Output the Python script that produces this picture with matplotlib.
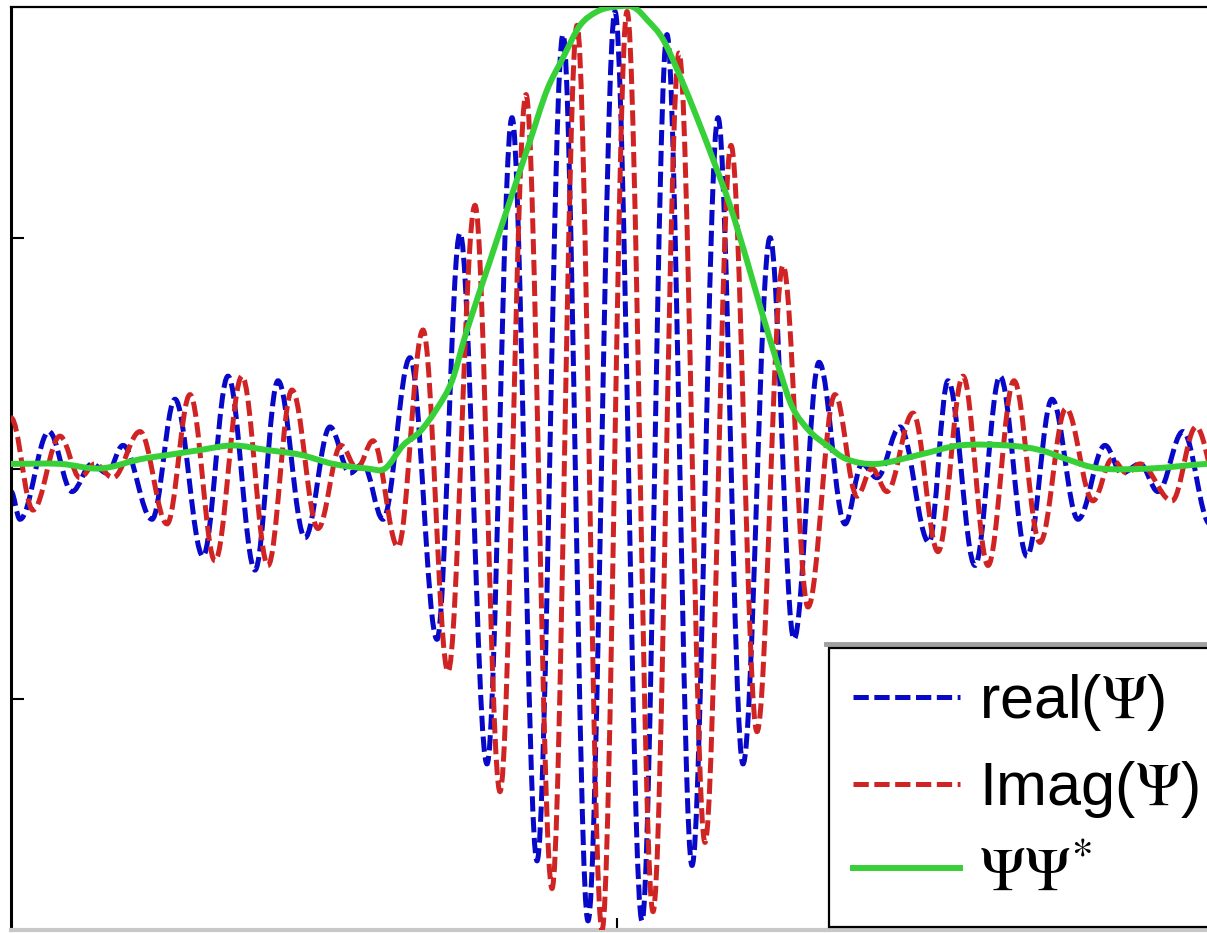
import matplotlib
matplotlib.use('Agg')
import matplotlib.pyplot as plt
from matplotlib.path import Path
from matplotlib.patches import PathPatch
from matplotlib.lines import Line2D

# Wave packet.
# x: arbitrary units (0 = centre tick), y: amplitude, axis runs -1..1
# Re and Im are given by their turning points, |Psi|^2 by samples.
real_x = [-6.06, -5.97, -5.68, -5.45, -5.25, -5.10, -4.94, -4.65, -4.42, -4.14,
          -3.89, -3.62, -3.39, -3.12, -2.87, -2.67, -2.54, -2.34, -2.07, -1.80,
          -1.57, -1.30, -1.05, -0.80, -0.54, -0.29, -0.02, 0.25, 0.50, 0.75,
          1.01, 1.26, 1.53, 1.77, 2.02, 2.28, 2.45, 2.60, 2.83, 3.12,
          3.31, 3.58, 3.83, 4.10, 4.35, 4.61, 4.88, 5.05, 5.23, 5.41,
          5.66, 5.93]
real_y = [-0.05, -0.11, 0.08, -0.05, 0.01, -0.01, 0.05, -0.11, 0.15, -0.19,
          0.20, -0.22, 0.19, -0.15, 0.09, -0.01, 0.01, -0.11, 0.24, -0.37,
          0.51, -0.64, 0.76, -0.85, 0.94, -0.98, 0.99, -0.98, 0.94, -0.86,
          0.76, -0.64, 0.50, -0.37, 0.23, -0.12, 0.01, -0.02, 0.09, -0.16,
          0.19, -0.21, 0.20, -0.19, 0.15, -0.11, 0.05, -0.01, 0.01, -0.05,
          0.08, -0.12]

imag_x = [-6.06, -5.84, -5.57, -5.37, -5.22, -5.04, -4.77, -4.50, -4.27, -4.02,
          -3.75, -3.49, -3.25, -2.99, -2.76, -2.60, -2.44, -2.19, -1.94, -1.69,
          -1.42, -1.17, -0.91, -0.65, -0.40, -0.15, 0.10, 0.36, 0.62, 0.88,
          1.14, 1.40, 1.66, 1.91, 2.18, 2.40, 2.55, 2.70, 2.96, 3.21,
          3.46, 3.71, 3.97, 4.23, 4.49, 4.76, 4.95, 5.10, 5.23, 5.55,
          5.79, 6.05]
imag_y = [0.11, -0.09, 0.07, -0.02, 0.01, -0.02, 0.08, -0.12, 0.16, -0.20,
          0.20, -0.21, 0.17, -0.13, 0.05, 0.00, 0.06, -0.17, 0.30, -0.44,
          0.57, -0.70, 0.81, -0.91, 0.96, -1.00, 0.99, -0.96, 0.90, -0.81,
          0.70, -0.57, 0.44, -0.30, 0.16, -0.06, 0.00, -0.05, 0.12, -0.18,
          0.20, -0.21, 0.19, -0.16, 0.13, -0.07, 0.02, -0.01, 0.01, -0.07,
          0.09, -0.07]

prob_x = [-6.06, -5.57, -5.17, -4.77, -4.47, -4.17, -3.84, -3.50, -3.17, -2.84,
          -2.50, -2.32, -2.14, -1.97, -1.80, -1.65, -1.50, -1.27, -1.04, -0.87,
          -0.70, -0.54, -0.37, -0.20, -0.04, 0.16, 0.31, 0.46, 0.63, 0.80,
          0.96, 1.13, 1.30, 1.46, 1.63, 1.76, 1.93, 2.10, 2.30, 2.60,
          3.03, 3.43, 3.90, 4.23, 4.50, 4.83, 5.33, 5.90, 6.23]
prob_y = [0.01, 0.01, 0.00, 0.02, 0.03, 0.04, 0.05, 0.04, 0.03, 0.01,
          0.00, 0.00, 0.05, 0.08, 0.13, 0.19, 0.30, 0.45, 0.60, 0.71,
          0.82, 0.89, 0.96, 0.99, 1.00, 1.00, 0.97, 0.93, 0.85, 0.76,
          0.67, 0.57, 0.45, 0.33, 0.21, 0.13, 0.08, 0.05, 0.02, 0.01,
          0.03, 0.05, 0.05, 0.04, 0.02, 0.00, 0.00, 0.01, 0.01]

labels = [r'real($\Psi$)', r'Imag($\Psi$)', r'$\Psi\Psi^{*}$']

blue = '#0808c8'
red = '#d02424'
green = '#38d038'

plt.rcParams['font.family'] = ['Liberation Sans', 'DejaVu Sans']
plt.rcParams['mathtext.fontset'] = 'stix'
plt.rcParams['lines.scale_dashes'] = False

dash = (0, (11, 4))


def wave_path(xs, ys, k=0.36):
    # smooth curve through turning points (flat tangent at each one)
    verts = [(xs[0], ys[0])]
    codes = [Path.MOVETO]
    for x0, y0, x1, y1 in zip(xs[:-1], ys[:-1], xs[1:], ys[1:]):
        d = x1 - x0
        verts += [(x0 + k * d, y0), (x1 - k * d, y1), (x1, y1)]
        codes += [Path.CURVE4] * 3
    return Path(verts, codes)


def smooth_path(xs, ys):
    # Catmull-Rom style curve through the samples
    n = len(xs)
    tx, ty = [], []
    for i in range(n):
        a, b = max(i - 1, 0), min(i + 1, n - 1)
        s = 0.5 if 0 < i < n - 1 else 1.0
        tx.append((xs[b] - xs[a]) * s)
        ty.append((ys[b] - ys[a]) * s)
    verts = [(xs[0], ys[0])]
    codes = [Path.MOVETO]
    for i in range(n - 1):
        verts += [(xs[i] + tx[i] / 3, ys[i] + ty[i] / 3),
                  (xs[i + 1] - tx[i + 1] / 3, ys[i + 1] - ty[i + 1] / 3),
                  (xs[i + 1], ys[i + 1])]
        codes += [Path.CURVE4] * 3
    return Path(verts, codes)


fig = plt.figure(figsize=(12.07, 9.33), dpi=100)
ax = fig.add_axes([11 / 1207, 3 / 933, 1229 / 1207, 923 / 933])

ax.add_patch(PathPatch(wave_path(real_x, real_y), fill=False, edgecolor=blue,
                       lw=3.6, linestyle=dash, zorder=2))
ax.add_patch(PathPatch(wave_path(imag_x, imag_y), fill=False, edgecolor=red,
                       lw=3.6, linestyle=dash, zorder=3))
ax.add_patch(PathPatch(smooth_path(prob_x, prob_y), fill=False, edgecolor=green,
                       lw=4.3, zorder=4, joinstyle='round'))

ax.set_xlim(-6.06, 6.23)
ax.set_ylim(-1, 1)
ax.set_xticks([0])
ax.set_yticks([-0.5, 0, 0.5])
ax.tick_params(direction='in', length=9, width=1.5, labelbottom=False,
               labelleft=False)
ax.spines['left'].set_linewidth(2.2)
ax.spines['top'].set_linewidth(1.6)
ax.spines['bottom'].set_color('#c8c8c8')
ax.spines['bottom'].set_linewidth(3)

handles = [Line2D([], [], color=blue, lw=3.6, linestyle=dash),
           Line2D([], [], color=red, lw=3.6, linestyle=dash),
           Line2D([], [], color=green, lw=4.3)]
leg = fig.legend(handles, labels, loc='upper left',
                 bbox_to_anchor=(829 / 1207, 1 - 922 / 933, 420 / 1207, 274 / 933),
                 mode='expand', borderaxespad=0, fontsize=44, fancybox=False,
                 framealpha=1, edgecolor='black', handlelength=1.75,
                 handletextpad=0.3, labelspacing=0.42, borderpad=0.4)
leg.get_frame().set_linewidth(1.6)

# grey edge above the legend box
fig.add_artist(Line2D([826 / 1207, 1], [1 - 644 / 933, 1 - 644 / 933],
                      color='#a0a0a0', lw=3.5))

fig.savefig('out.png', dpi=100)
